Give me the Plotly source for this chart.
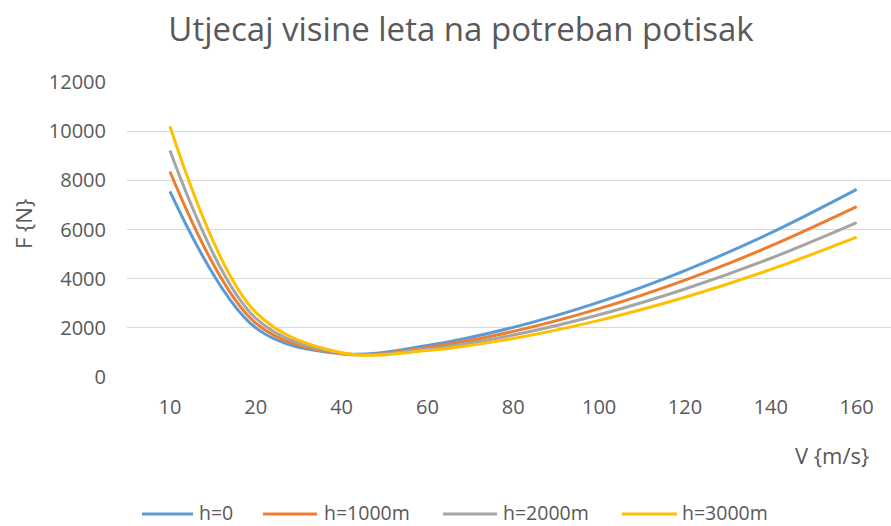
import plotly.graph_objects as go

categories = ["10", "20", "40", "60", "80", "100", "120", "140", "160"]
h0 = [7550, 2000, 950, 1280, 2020, 3045, 4330, 5860, 7630]
h1000 = [8360, 2190, 950, 1200, 1855, 2780, 3940, 5330, 6930]
h2000 = [9210, 2390, 965, 1135, 1705, 2530, 3580, 4830, 6280]
h3000 = [10200, 2630, 990, 1075, 1570, 2305, 3245, 4375, 5690]

series_names = ["h=0", "h=1000m", "h=2000m", "h=3000m"]
series_values = [h0, h1000, h2000, h3000]
series_colors = ["#5B9BD5", "#ED7D31", "#A5A5A5", "#FFC000"]

# plot area geometry in pixels
L, R, T, B = 127, 891, 82, 377
W, H = R - L, B - T


def px(x):
    return (x - L) / W


def py(y):
    return (B - y) / H


font_family = "Open Sans, Liberation Sans, sans-serif"
grey = "#595959"

fig = go.Figure()
for name, vals, col in zip(series_names, series_values, series_colors):
    fig.add_trace(go.Scatter(
        x=categories, y=vals, name=name, mode="lines",
        line=dict(color=col, width=3, shape="spline", smoothing=1.0),
        showlegend=False,
    ))

# manual legend (line sample + label)
legend_line_x = [(142, 193), (263, 317), (443, 497), (622, 677)]
legend_text_x = [198, 323, 502, 681]
legend_line_y = 514
legend_text_y = 512.5
shapes = []
annotations = []
for (x0, x1), tx, name, col in zip(legend_line_x, legend_text_x, series_names, series_colors):
    shapes.append(dict(type="line", xref="paper", yref="paper",
                       x0=px(x0), x1=px(x1), y0=py(legend_line_y), y1=py(legend_line_y),
                       line=dict(color=col, width=3)))
    annotations.append(dict(text=name, xref="paper", yref="paper", x=px(tx), y=py(legend_text_y),
                            xanchor="left", yanchor="middle", showarrow=False,
                            borderpad=0,
                            font=dict(size=19.5, color=grey, family=font_family)))

annotations.append(dict(text="F {N}", xref="paper", yref="paper", x=px(23), y=py(224),
                        xanchor="center", yanchor="middle", showarrow=False, textangle=-90,
                        font=dict(size=22, color=grey, family=font_family)))
annotations.append(dict(text="V {m/s}", xref="paper", yref="paper", x=px(832), y=py(455),
                        xanchor="center", yanchor="middle", showarrow=False,
                        font=dict(size=22, color=grey, family=font_family)))

fig.update_layout(
    width=891, height=526,
    margin=dict(l=L, r=891 - R, t=T, b=526 - B, pad=0),
    paper_bgcolor="white", plot_bgcolor="white",
    font=dict(family=font_family, color=grey, size=20),
    title=dict(text="Utjecaj visine leta na potreban potisak",
               x=461 / 891, xref="container", xanchor="center",
               y=1 - 29 / 526, yref="container", yanchor="middle",
               font=dict(size=33, color=grey, family=font_family)),
    showlegend=False,
    xaxis=dict(type="category", range=[-0.5, 8.4], showgrid=False, zeroline=False,
               showline=False, ticks="", tickfont=dict(size=20, color=grey),
               ticklabelstandoff=16),
    yaxis=dict(range=[0, 12000], tickvals=[0, 2000, 4000, 6000, 8000, 10000, 12000],
               showgrid=True, gridcolor="#D9D9D9", gridwidth=1, zeroline=False,
               showline=False, ticks="", tickformat="d", tickfont=dict(size=20, color=grey),
               ticklabelstandoff=20),
    shapes=shapes,
    annotations=annotations,
)

fig.write_html("out.html", config={"displayModeBar": False},
               post_script="document.body.style.margin='0';document.body.style.overflow='hidden';")
